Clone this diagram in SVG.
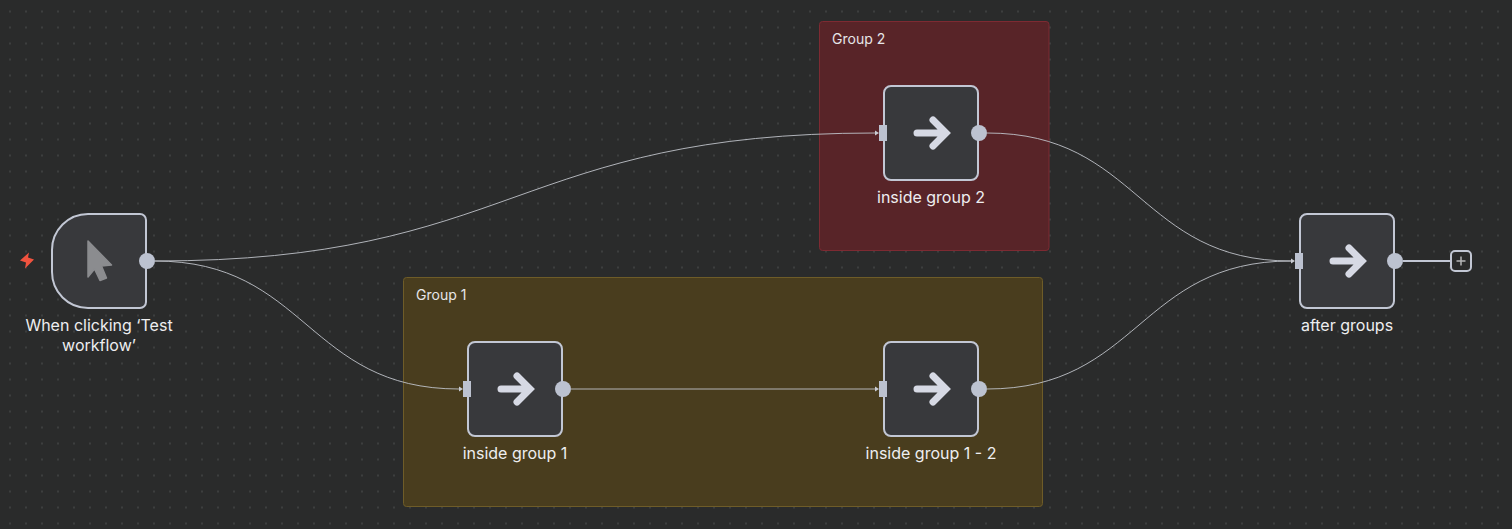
<svg xmlns="http://www.w3.org/2000/svg" width="1512" height="529" viewBox="0 0 1512 529">
<style>
.bg{fill:#2a2b2b}
.g1{fill:#493d1e;stroke:#6e5c28;stroke-width:1}
.g2{fill:#582428;stroke:#7d2a32;stroke-width:1}
.gl{font:14px Inter,"Liberation Sans",sans-serif;fill:#e6e6e8}
.nl{font:16px Inter,"Liberation Sans",sans-serif;fill:#eeeef0;text-anchor:middle}
.box{fill:#38393c;stroke:#c2c7d4;stroke-width:2}
.h{fill:#bcc2d0}
.ar{fill:none;stroke:#d6d9e4;stroke-width:7;stroke-linecap:round;stroke-linejoin:miter}
.e{fill:none;stroke:#bfc2c9;stroke-width:1;opacity:.9}
</style>
<defs>
<pattern id="dots" width="16" height="16" patternUnits="userSpaceOnUse"><rect x="9.500" y="10.500" width="1" height="2" fill="#505151"/></pattern>
<g id="arrow"><path class="ar" d="M-14,0H14M2,-13L15,0L2,13"/></g>
</defs>
<rect class="bg" width="1512" height="529"/>
<rect width="1512" height="529" fill="url(#dots)"/>
<g id="group-2"><rect class="g2" x="819.500" y="21.500" width="229.500" height="229" rx="3"/><text class="gl" x="832" y="44">Group 2</text></g>
<g id="group-1"><rect class="g1" x="403.500" y="277.500" width="639" height="229" rx="3"/><text class="gl" x="416" y="300">Group 1</text></g>
<g id="connectors">
<path class="e" d="M155,261C515,261 515,133 875,133"/>
<path class="e" d="M155,261C307,261 307,389 459,389"/>
<path class="e" d="M571,389H875"/>
<path class="e" d="M987,133C1139,133 1139,261 1291,261"/>
<path class="e" d="M987,389C1139,389 1139,261 1291,261"/>
<path d="M875,130.500L879,133L875,135.500Z M459,386.500L463,389L459,391.500Z M875,386.500L879,389L875,391.500Z M1291,258.500L1295,261L1291,263.500Z" fill="#c9ccd3"/>
<path d="M1403,261H1451" stroke="#c2c7d4" stroke-width="2" fill="none"/>
</g>
<g id="trigger">
<path d="M29,252.500L20,260.500L26,262.500L25,268.500L34,259.500L28,257.500Z" fill="#f0533f"/>
<path class="box" d="M88,214H140a6,6 0 0 1 6,6V302a6,6 0 0 1 -6,6H88a36,36 0 0 1 -36,-36V250a36,36 0 0 1 36,-36Z"/>
<path d="M88,241L111.500,265L101.500,266L106.500,278L100,280.500L94.500,269L88,277Z" fill="#8b8c8f" stroke="#8b8c8f" stroke-width="1.500" stroke-linejoin="round"/>
<circle class="h" cx="147" cy="261" r="8"/>
<text class="nl" x="99" y="331">When clicking ‘Test</text><text class="nl" x="99" y="351">workflow’</text>
</g>
<g id="inside-group-2">
<rect class="box" x="884" y="86" width="94" height="94" rx="7"/><use href="#arrow" x="931" y="133"/>
<rect class="h" x="879" y="125" width="8" height="16"/><circle class="h" cx="979" cy="133" r="8"/>
<text class="nl" x="931" y="203">inside group 2</text>
</g>
<g id="inside-group-1">
<rect class="box" x="468" y="342" width="94" height="94" rx="7"/><use href="#arrow" x="515" y="389"/>
<rect class="h" x="463" y="381" width="8" height="16"/><circle class="h" cx="563" cy="389" r="8"/>
<text class="nl" x="515" y="459">inside group 1</text>
</g>
<g id="inside-group-1-2">
<rect class="box" x="884" y="342" width="94" height="94" rx="7"/><use href="#arrow" x="931" y="389"/>
<rect class="h" x="879" y="381" width="8" height="16"/><circle class="h" cx="979" cy="389" r="8"/>
<text class="nl" x="931" y="459">inside group 1 - 2</text>
</g>
<g id="after-groups">
<rect class="box" x="1300" y="214" width="94" height="94" rx="7"/><use href="#arrow" x="1347" y="261"/>
<rect class="h" x="1295" y="253" width="8" height="16"/><circle class="h" cx="1395" cy="261" r="8"/>
<text class="nl" x="1347" y="331">after groups</text>
</g>
<g id="add">
<rect x="1451" y="251" width="20" height="20" rx="4" fill="#2a2b2b" stroke="#c2c7d4" stroke-width="2"/>
<path d="M1461,256.500V265.500M1456.500,261H1465.500" stroke="#b5b6b8" stroke-width="1.500" fill="none"/>
</g>
</svg>
